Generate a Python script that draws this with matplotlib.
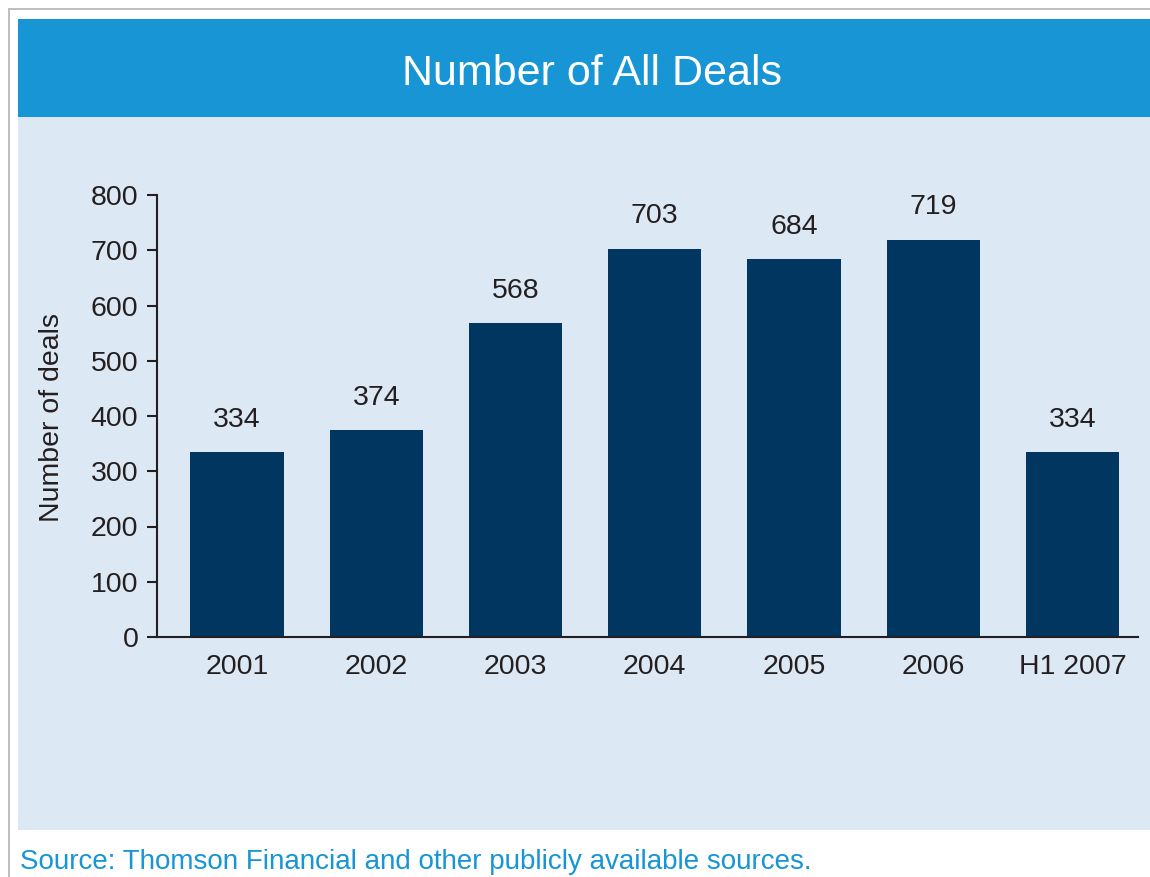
import matplotlib
matplotlib.use('Agg')
import matplotlib.pyplot as plt
from matplotlib.patches import Rectangle

plt.rcParams['font.family'] = ['Liberation Sans', 'DejaVu Sans']

# Data
years = ['2001', '2002', '2003', '2004', '2005', '2006', 'H1 2007']
deals = [334, 374, 568, 703, 684, 719, 334]

W, H = 1150, 877
fig = plt.figure(figsize=(W / 100, H / 100), dpi=100)
fig.patch.set_facecolor('white')


def px_rect(x0, y0, x1, y1, **kw):
    # rectangle given in pixel coords (y from top)
    fig.patches.append(Rectangle((x0 / W, 1 - y1 / H), (x1 - x0) / W, (y1 - y0) / H,
                                 transform=fig.transFigure, figure=fig, zorder=-10, **kw))


# outer gray frame (top and left)
px_rect(8, 8, 1150, 10, facecolor='#bfbfbf', edgecolor='none')
px_rect(8, 8, 10, 877, facecolor='#bfbfbf', edgecolor='none')
# title band and panel
px_rect(18, 19, 1150, 117, facecolor='#1795d4', edgecolor='none')
px_rect(18, 117, 1150, 830, facecolor='#dde8f5', edgecolor='none')

fig.text(592 / W, 1 - 74 / H, 'Number of All Deals', color='white',
         fontsize=31, ha='center', va='center')
fig.text(20 / W, 1 - 862 / H, 'Source: Thomson Financial and other publicly available sources.',
         color='#1795d4', fontsize=20, ha='left', va='center')

text_col = '#231f20'
fs = 20.5
ax = fig.add_axes([157 / W, (H - 637) / H, (1138 - 157) / W, (637 - 195) / H])
ax.set_facecolor('none')

x = range(len(years))
bars = ax.bar(x, deals, width=0.67, color='#003660')
for b, v in zip(bars, deals):
    ax.annotate(str(v), (b.get_x() + b.get_width() / 2, v), xytext=(0, 14),
                textcoords='offset points', ha='center', va='bottom',
                fontsize=fs, color=text_col)

ax.set_xlim(-0.574, 6.47)
ax.set_ylim(0, 800)
ax.set_yticks(range(0, 801, 100))
ax.set_xticks(list(x))
ax.set_xticklabels(years)
for s in ['top', 'right']:
    ax.spines[s].set_visible(False)
for s in ['left', 'bottom']:
    ax.spines[s].set_color(text_col)
    ax.spines[s].set_linewidth(1.5)
ax.tick_params(axis='y', length=7.5, width=1.5, pad=6, labelsize=fs,
               colors=text_col)
ax.tick_params(axis='x', length=0, pad=12, labelsize=fs, colors=text_col)

fig.text(52 / W, 1 - 418 / H, 'Number of deals', rotation=90, fontsize=fs,
         color=text_col, ha='center', va='center')

fig.savefig('out.png', dpi=100)
